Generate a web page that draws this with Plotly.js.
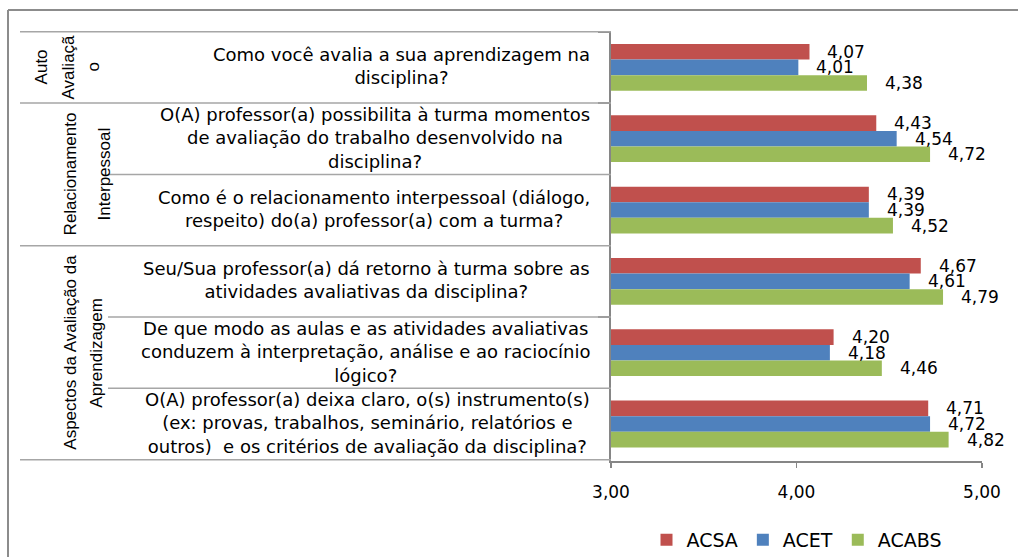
<!DOCTYPE html>
<html><head><meta charset="utf-8">
<script src="https://cdn.plot.ly/plotly-3.0.1.min.js"></script>
<style>html,body{margin:0;padding:0;background:#fff;overflow:hidden}#chart{width:1018px;height:557px;}</style>
</head><body><div id="chart"></div>
<script>
// ---- data ----
const categories = [
  "Como você avalia a sua aprendizagem na<br>disciplina?",
  "O(A) professor(a) possibilita à turma momentos<br>de avaliação do trabalho desenvolvido na<br>disciplina?",
  "Como é o relacionamento interpessoal (diálogo,<br>respeito) do(a) professor(a) com a turma?",
  "Seu/Sua professor(a) dá retorno à turma sobre as<br>atividades avaliativas da disciplina?",
  "De que modo as aulas e as atividades avaliativas<br>conduzem à interpretação, análise e ao raciocínio<br>lógico?",
  "O(A) professor(a) deixa claro, o(s) instrumento(s)<br>(ex: provas, trabalhos, seminário, relatórios e<br>outros)  e os critérios de avaliação da disciplina?"
];
const groupLines = [["Auto", "Avaliaçã", "o"], ["Relacionamento", "Interpessoal"], ["Aspectos da Avaliação da", "Aprendizagem"]];
const groupFirst = [0, 1, 3];
const groupLast = [0, 2, 5];
const seriesNames = ["ACSA", "ACET", "ACABS"];
const acsa = [4.07, 4.43, 4.39, 4.67, 4.20, 4.71];
const acet = [4.01, 4.54, 4.39, 4.61, 4.18, 4.72];
const acabs = [4.38, 4.72, 4.52, 4.79, 4.46, 4.82];
const tickVals = [3, 4, 5];

// ---- styling / layout helpers ----
const colors = ["#C0504D", "#4F81BD", "#9BBB59"];
const L = 611, R = 982, T = 31, B = 461;
const px2x = p => (p - L) / (R - L);
const px2y = p => (B - p) / (B - T);
const groupLineX = [[41, 68, 93], [70, 104], [71, 97]];
const mainFont = "DejaVu Sans, Verdana, sans-serif";
const narrowFont = "Liberation Sans Narrow, Arial Narrow, Liberation Sans, Arial, sans-serif";
const fmt = v => v.toFixed(2).replace('.', ',');

const seriesVals = [acsa, acet, acabs];
const traces = seriesVals.map((vals, s) => ({
  type: 'bar', orientation: 'h', name: seriesNames[s],
  x: vals, y: categories,
  marker: {color: colors[s], line: {width: 0}},
  hoverinfo: 'skip'
}));

const annotations = [];
// category labels
categories.forEach(c => annotations.push({
  xref: 'paper', yref: 'y', x: px2x(592), y: c, xanchor: 'right', yanchor: 'middle',
  text: c, align: 'center', showarrow: false, yshift: 1,
  font: {family: mainFont, size: 18, color: '#000'}
}));
// group labels (rotated)
groupLines.forEach((lines, g) => {
  const yc = (groupFirst[g] + groupLast[g]) / 2;
  lines.forEach((t, k) => annotations.push({
    xref: 'paper', yref: 'y', x: px2x(groupLineX[g][k]), y: yc,
    xanchor: 'center', yanchor: 'middle', text: t, textangle: -90, showarrow: false,
    font: {family: narrowFont, size: 17, color: '#000'}
  }));
});
// data labels
const barStep = 15.67;
seriesVals.forEach((vals, s) => vals.forEach((v, i) => annotations.push({
  xref: 'x', yref: 'y', x: v, y: categories[i], xanchor: 'left', yanchor: 'middle',
  xshift: 16, yshift: (1 - s) * barStep, text: fmt(v), showarrow: false,
  font: {family: mainFont, size: 17, color: '#000'}
})));

const shapes = [];
const lineCol = '#A6A6A6';
// outer chart border (only left + top edges are inside the picture)
shapes.push({type: 'line', xref: 'paper', yref: 'paper', x0: px2x(8), x1: px2x(8), y0: px2y(10), y1: px2y(600),
  line: {color: '#8C8C8C', width: 2}, layer: 'below'});
shapes.push({type: 'line', xref: 'paper', yref: 'paper', x0: px2x(8), x1: px2x(1030), y0: px2y(10), y1: px2y(10),
  line: {color: '#8C8C8C', width: 2}, layer: 'below'});
// label grid lines
const bounds = [-0.5, 0.5, 1.5, 2.5, 3.5, 4.5, 5.5];
const groupBounds = new Set([-0.5, 0.5, 2.5, 5.5]);
bounds.forEach(b => shapes.push({type: 'line', xref: 'paper', yref: 'y',
  x0: px2x(groupBounds.has(b) ? 20 : 108), x1: 0, y0: b, y1: b,
  line: {color: lineCol, width: 1.5}}));

const layout = {
  width: 1018, height: 557,
  margin: {l: L, r: 1018 - R, t: T, b: 557 - B, autoexpand: false},
  paper_bgcolor: '#fff', plot_bgcolor: '#fff',
  separators: ',.',
  barmode: 'group', bargap: 0.344, bargroupgap: 0,
  showlegend: true,
  legend: {orientation: 'h', x: 0.5, xanchor: 'center', y: px2y(540), yanchor: 'middle',
    font: {family: mainFont, size: 19, color: '#000'}, traceorder: 'normal'},
  xaxis: {range: [3, 5], tickvals: tickVals, tickformat: '.2f', showgrid: false, zeroline: false,
    showline: true, linecolor: '#868686', linewidth: 1.5, ticks: 'outside', ticklen: 5, tickcolor: '#868686',
    tickwidth: 1.5, ticklabelstandoff: 10, tickfont: {family: mainFont, size: 17, color: '#000'}, fixedrange: true},
  yaxis: {type: 'category', autorange: 'reversed', showticklabels: false, showgrid: false, zeroline: false,
    showline: true, linecolor: '#868686', linewidth: 2, ticks: 'outside', ticklen: 11, tickcolor: '#868686',
    tickson: 'boundaries', tickwidth: 1.5, fixedrange: true},
  annotations: annotations, shapes: shapes
};
Plotly.newPlot('chart', traces, layout, {displayModeBar: false, staticPlot: true});
</script></body></html>
